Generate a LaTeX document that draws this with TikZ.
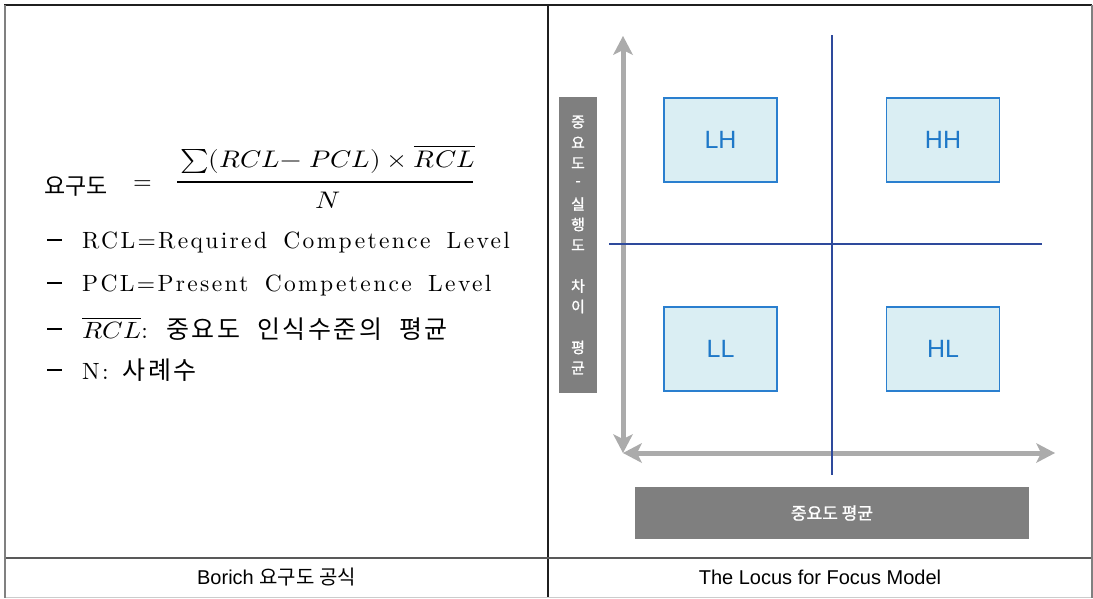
\documentclass[tikz,border=0pt]{standalone}
\usepackage{fontspec}
\usepackage{unicode-math}
\usetikzlibrary{arrows.meta}

% fonts
\newfontfamily\kr{Noto Sans CJK KR}
\newfontfamily\krb{Noto Sans CJK KR}[FakeBold=1.2]
\newfontfamily\krsp{Noto Sans CJK KR}[LetterSpace=10]
\newfontfamily\lmsp{lmroman10-regular.otf}[LetterSpace=10,WordSpace=1.6]
\newfontfamily\arial{Liberation Sans}

% colours
\definecolor{axisgray}{HTML}{ABABAB}
\definecolor{qline}{HTML}{2E4A9C}
\definecolor{qfill}{HTML}{DAEEF3}
\definecolor{qdraw}{HTML}{2A7FCF}
\definecolor{qtext}{HTML}{1E78C8}
\definecolor{barfill}{HTML}{7F7F7F}

\begin{document}
\begin{tikzpicture}[x=1pt,y=-1pt,
  gtip/.tip={Stealth[length=19pt,width=20pt,inset=5pt,line width=0pt]},
  rule/.style={line width=1.5pt,draw=black!88},
  grayrule/.style={line width=2pt,draw=black!50},
  txt/.style={anchor=base west,inner sep=0pt,font=\lmsp\fontsize{23.5}{28}\selectfont},
  dashmark/.style={anchor=base west,inner sep=0pt},
  mathpart/.style={inner sep=0pt,font=\fontsize{24}{28}\selectfont},
  gaxis/.style={line width=5pt,draw=axisgray,gtip-gtip},
  qaxis/.style={line width=2pt,draw=qline},
  quad/.style={draw=qdraw,line width=1.5pt,fill=qfill,minimum width=113pt,
    minimum height=84pt,inner sep=0pt,text=qtext,
    font=\arial\fontsize{25}{30}\selectfont},
  vchar/.style={inner sep=0pt,text=white,font=\krb\fontsize{15}{18}\selectfont},
  caption/.style={inner sep=0pt,font=\fontsize{20}{24}\selectfont}]

\useasboundingbox (0,0) rectangle (1093,598);
\fill[white] (0,0) rectangle (1093,598);

% table frame
\draw[rule] (4,5) -- (1092,5);
\draw[rule] (548,5) -- (548,598);
\draw[line width=2pt,draw=black!65] (4,558) -- (1092,558);
\draw[line width=1pt,draw=black!20] (4,597.5) -- (1092,597.5);
\draw[grayrule] (5,5) -- (5,598);
\draw[grayrule] (1091.5,5) -- (1091.5,598);

% Borich formula
\node[anchor=base west,inner sep=0pt,font=\kr\fontsize{23}{27}\selectfont] (lhs) at (44,194) {요구도};
\node[mathpart,anchor=base] (eq) at (142.5,189) {$=$};
\node[mathpart,anchor=base west] (num) at (180,167)
  {\scalebox{1.13}[1]{$\sum(RCL\mathord{-}\;PCL)\times\overline{RCL}$}};
\node[mathpart,anchor=base] (den) at (328,208) {\scalebox{1.15}[1]{$N$}};
\coordinate (barL) at (177,182);
\coordinate (barR) at (473,182);
\draw[line width=1.3pt] (barL) -- (barR);

% definitions
\foreach \y/\n in {248/1,291/2,337/3,378/4}
  \node[dashmark] (d\n) at (47,\y) {\rule[7pt]{14.5pt}{2pt}};
\node[txt] (l1) at (82,248) {RCL=Required Competence Level};
\node[txt] (l2) at (82,291) {PCL=Present Competence Level};
\node[txt] (l3) at (82,338)
  {\scalebox{1.12}[1]{$\overline{RCL}$}:\hspace{18pt}{\krsp\fontsize{25}{29}\selectfont 중요도\hspace{17pt}인식수준의\hspace{17pt}평균}};
\node[txt] (l4) at (82,379) {N:\hspace{14pt}{\krsp\fontsize{25}{29}\selectfont 사례수}};

% locus for focus model
\coordinate (org) at (623,453);
\coordinate (ytop) at (623,36);
\coordinate (xend) at (1055,453);
\draw[gaxis] (org) -- (ytop);
\draw[gaxis] (org) -- (xend);

\coordinate (vtop) at (832,35);
\coordinate (vbot) at (832,475);
\coordinate (hleft) at (609,244);
\coordinate (hright) at (1042,244);
\draw[qaxis] (vtop) -- (vbot);
\draw[qaxis] (hleft) -- (hright);

\node[quad] (lh) at (720.5,140) {LH};
\node[quad] (hh) at (943,140) {HH};
\node[quad] (ll) at (720.5,349) {LL};
\node[quad] (hl) at (943,349) {HL};

% axis label bars
\node[fill=barfill,minimum width=38pt,minimum height=296pt,inner sep=0pt] (vbar) at (578,245) {};
\foreach \c [count=\i] in {중,요,도,-,실,행,도,{},차,이,{},평,균}
  \node[vchar] (v\i) at (578,{122+20.5*(\i-1)}) {\c};
\node[fill=barfill,minimum width=394pt,minimum height=52pt,inner sep=0pt,
  text=white,font=\krb\fontsize{17}{20}\selectfont] (hbar) at (832,513) {중요도 평균};

% captions
\node[caption] (cap1) at (276.5,577) {\arial Borich \kr 요구도 공식};
\node[caption] (cap2) at (820,577) {\arial The Locus for Focus Model};

\end{tikzpicture}
\end{document}
